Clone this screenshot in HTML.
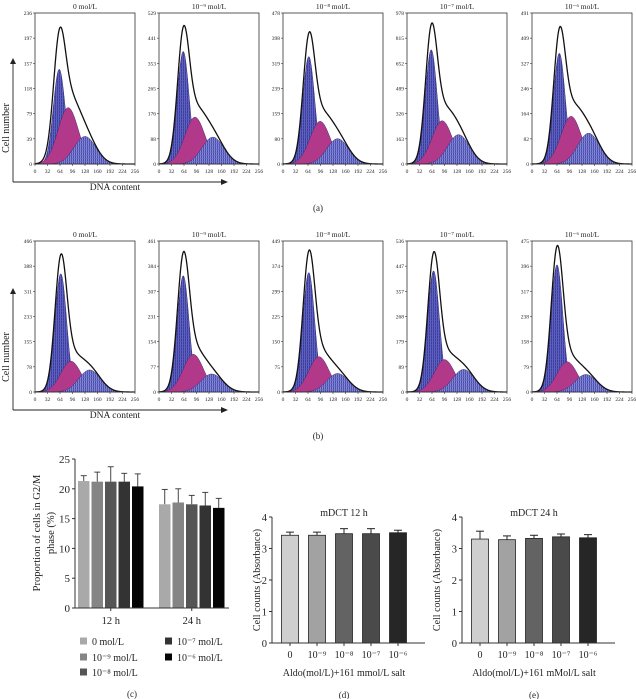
<!DOCTYPE html>
<html><head><meta charset="utf-8"><style>
html,body{margin:0;padding:0;background:#fff;}
svg{display:block;font-family:"Liberation Serif",serif;}
</style></head><body>
<svg id="fig" width="636" height="699" viewBox="0 0 636 699" xmlns="http://www.w3.org/2000/svg">
<defs>
<pattern id="hatchG1" width="2" height="3" patternUnits="userSpaceOnUse"><rect width="2" height="3" fill="#3a3d9e"/><rect width="0.8" height="3" fill="#6a6dc8"/><rect y="2.4" width="2" height="0.6" fill="#5558b8"/></pattern>
<pattern id="hatchG2" width="2" height="3" patternUnits="userSpaceOnUse"><rect width="2" height="3" fill="#4a4eae"/><rect width="0.9" height="3" fill="#8a8dd8"/><rect y="2.4" width="2" height="0.6" fill="#6a6dc6"/></pattern>
</defs>
</svg>
<script>
// ---------- Histogram data (flow cytometry) ----------
const histTitles = ["0 mol/L","10⁻⁹ mol/L","10⁻⁸ mol/L","10⁻⁷ mol/L","10⁻⁶ mol/L"];
const xTicks = [0,32,64,96,128,160,192,224,256];
const rowAYMax = [236,529,478,978,491];
const rowBYMax = [466,461,449,536,475];
const rowAG1Peak = [148,394,340,740,360];
const rowAG1Pos  = [62,62,66,62,70];
const rowASPeak  = [88,164,135,280,155];
const rowASPos   = [85,92,95,90,100];
const rowAG2Peak = [43,94,80,190,100];
const rowAG2Pos  = [128,138,140,132,145];
const rowBG1Peak = [365,355,355,430,400];
const rowBG1Pos  = [66,62,66,68,64];
const rowBSPeak  = [95,115,105,115,95];
const rowBSPos   = [92,88,92,96,90];
const rowBG2Peak = [68,55,55,80,55];
const rowBG2Pos  = [140,135,140,145,138];
// ---------- Panel c ----------
const cGroups = ["12 h","24 h"];
const cLegend = ["0 mol/L","10⁻⁹ mol/L","10⁻⁸ mol/L","10⁻⁷ mol/L","10⁻⁶ mol/L"];
const c12Values = [21.3,21.2,21.2,21.2,20.4];
const c12Err = [0.9,1.6,2.5,1.4,2.1];
const c24Values = [17.4,17.7,17.4,17.2,16.8];
const c24Err = [2.5,2.3,1.5,2.2,1.6];
const cTicks = [0,5,10,15,20,25];
// ---------- Panels d/e ----------
const deCats = ["0","10⁻⁹","10⁻⁸","10⁻⁷","10⁻⁶"];
const dValues = [3.42,3.42,3.47,3.47,3.50];
const dErr = [0.10,0.10,0.16,0.16,0.08];
const eValues = [3.30,3.28,3.32,3.37,3.34];
const eErr = [0.25,0.12,0.10,0.09,0.10];
const deTicks = [0,1,2,3,4];

const NS="http://www.w3.org/2000/svg";
const svg=document.getElementById('fig');
function mk(tag,attrs,parent){const e=document.createElementNS(NS,tag);for(const k in attrs)e.setAttribute(k,attrs[k]);(parent||svg).appendChild(e);return e;}
function txt(x,y,s,size,anchor,parent,extra){const t=mk('text',Object.assign({x:x,y:y,'font-size':size,'text-anchor':anchor||'middle',fill:'#222'},extra||{}),parent);t.textContent=s;return t;}

const lefts=[35,159,283,407,532];
const W=100;
function gauss(x,m,s){return Math.exp(-(x-m)*(x-m)/(2*s*s));}
function drawHist(i,top,bottom,ymax,yTicksMax,g1p,g1m,sp,sm,g2p,g2m,row){
  const g=mk('g',{});
  
  
  const L=lefts[i];
  const xs=v=>L+v/256*W;
  const ys=v=>bottom-v/ymax*(bottom-top);
  const comps=[[g1p,g1m,15,'url(#hatchG1)','g1-peak'],[sp,sm,26,'#b2388a','s-phase-peak'],[g2p,g2m,28,'url(#hatchG2)','g2-peak']];
  const totalArr=[];
  for(let v=0;v<=256;v+=1)totalArr.push(0);
  comps.forEach(c=>{
    let d='M'+xs(0)+','+ys(0);
    for(let v=0;v<=256;v+=1){const y=c[0]*gauss(v,c[1],c[2]);totalArr[v]+=y;d+=' L'+xs(v).toFixed(2)+','+ys(y).toFixed(2);}
    d+=' L'+xs(256)+','+ys(0)+'Z';
    const p=mk('path',{d:d,fill:c[3],stroke:'#3a2a6a','stroke-width':0.5},g);
    
    
  });
  let d='';
  for(let v=0;v<=256;v++){d+=(v?' L':'M')+xs(v).toFixed(2)+','+ys(totalArr[v]).toFixed(2);}
  const tl=mk('path',{d:d,fill:'none',stroke:'#111','stroke-width':1.3},g);
  
  
  const fr=mk('rect',{x:L,y:top,width:W,height:bottom-top,fill:'none',stroke:'#333','stroke-width':0.8},g);
  
  
  for(let k=0;k<=6;k++){
    const val=Math.round(yTicksMax*(6-k)/6);
    const yy=top+k*(bottom-top)/6;
    mk('line',{x1:L-2,x2:L,y1:yy,y2:yy,stroke:'#333','stroke-width':0.6},g);
    const t=txt(L-3,yy+2,String(k===0?yTicksMax:val),5.5,'end',g);
    
    
  }
  xTicks.forEach(v=>{
    mk('line',{x1:xs(v),x2:xs(v),y1:bottom,y2:bottom+2,stroke:'#333','stroke-width':0.6},g);
    const t=txt(xs(v),bottom+9,String(v),5.5,'middle',g);
    
    
  });
  const tt=txt(L+W/2,top-4,histTitles[i],7.5,'middle',g);
  
  
}
for(let i=0;i<5;i++){
  drawHist(i,13,164,rowAYMax[i],rowAYMax[i],rowAG1Peak[i],rowAG1Pos[i],rowASPeak[i],rowASPos[i],rowAG2Peak[i],rowAG2Pos[i],'a');
  drawHist(i,241,392,rowBYMax[i],rowBYMax[i],rowBG1Peak[i],rowBG1Pos[i],rowBSPeak[i],rowBSPos[i],rowBG2Peak[i],rowBG2Pos[i],'b');
}
// big axes arrows
function bigAxes(topArrow,yAxis,label,lblY,row){
  const g=mk('g',{});
  
  
  mk('line',{x1:13,y1:yAxis,x2:13,y2:topArrow+5,stroke:'#222','stroke-width':0.9},g);
  mk('path',{d:`M10,${topArrow+6} L13,${topArrow} L16,${topArrow+6}Z`,fill:'#222'},g);
  mk('line',{x1:13,y1:yAxis,x2:222,y2:yAxis,stroke:'#222','stroke-width':0.9},g);
  mk('path',{d:`M221,${yAxis-3} L228,${yAxis} L221,${yAxis+3}Z`,fill:'#222'},g);
  const cn=txt(0,0,'Cell number',10,'middle',g,{transform:`translate(9,${(topArrow+yAxis)/2+8}) rotate(-90)`});
  
  
  const dn=txt(115,lblY,'DNA content',9.5,'middle',g);
  
  
  const pl=txt(318,lblY+21,'('+row+')',9,'middle',g);
  
  
}
bigAxes(58,182,'',190,'a');
bigAxes(288,410,'',418,'b');

// ---------- Panel c ----------
(function(){
  const g=mk('g',{});
  
  
  const ax=75,top=459,bot=608,ymax=25;
  const ys=v=>bot-v/ymax*(bot-top);
  const cols=['#a9a9a9','#858585','#555555','#333333','#050505'];
  const groupStart=[78,159];
  const step=13.5,bw=11.5;
  [c12Values,c24Values].forEach((vals,gi)=>{
    const errs=gi?c24Err:c12Err;
    vals.forEach((v,k)=>{
      const x=groupStart[gi]+k*step;
      const cx=x+bw/2;
      const ey=ys(v+errs[k]);
      mk('line',{x1:cx,x2:cx,y1:ys(v),y2:ey,stroke:'#333','stroke-width':0.9},g);
      mk('line',{x1:cx-3,x2:cx+3,y1:ey,y2:ey,stroke:'#333','stroke-width':0.9},g);
      const r=mk('rect',{x:x,y:ys(v),width:bw,height:bot-ys(v),fill:cols[k]},g);
      
      
    });
    const lt=txt(groupStart[gi]+2*step+bw/2,bot+16,cGroups[gi],10.5,'middle',g);
    
    
    mk('line',{x1:groupStart[gi]+2*step+bw/2,x2:groupStart[gi]+2*step+bw/2,y1:bot,y2:bot+3,stroke:'#333'},g);
  });
  mk('line',{x1:ax,y1:top,x2:ax,y2:bot,stroke:'#333','stroke-width':1},g);
  mk('line',{x1:ax,y1:bot,x2:229,y2:bot,stroke:'#333','stroke-width':1},g);
  cTicks.forEach(v=>{
    mk('line',{x1:ax-3,x2:ax,y1:ys(v),y2:ys(v),stroke:'#333'},g);
    const t=txt(ax-5,ys(v)+4,String(v),11,'end',g);
    
    
  });
  const yt=mk('text',{transform:'translate(40,533) rotate(-90)','font-size':10.5,'text-anchor':'middle',fill:'#222'},g);
  
  
  yt.innerHTML='<tspan x="0" dy="0">Proportion of cells in G2/M</tspan><tspan x="0" dy="14">phase (%)</tspan>';
  const legPos=[[80,642],[80,658],[80,673],[165,642],[165,658]];
  cLegend.forEach((s,k)=>{
    const lg=mk('g',{},g);
    
    
    mk('rect',{x:legPos[k][0],y:legPos[k][1]-4.5,width:7,height:7,fill:cols[k]},lg);
    txt(legPos[k][0]+12,legPos[k][1]+3,s,10,'start',lg);
  });
  const pl=txt(132,697,'(c)',9,'middle',g);
  
  
})();

// ---------- Panels d/e ----------
function drawDE(ax,firstCenter,vals,errs,title,xtitle,ytitleX,label,name){
  const g=mk('g',{});
  
  
  const top=517,bot=643,ymax=4,step=27,bw=17;
  const ys=v=>bot-v/ymax*(bot-top);
  const cols=['#cfcfcf','#a2a2a2','#636363','#4a4a4a','#262626'];
  vals.forEach((v,k)=>{
    const cx=firstCenter+k*step;
    const ey=ys(v+errs[k]);
    mk('line',{x1:cx,x2:cx,y1:ys(v),y2:ey,stroke:'#222','stroke-width':1},g);
    mk('line',{x1:cx-4,x2:cx+4,y1:ey,y2:ey,stroke:'#222','stroke-width':1},g);
    const r=mk('rect',{x:cx-bw/2,y:ys(v),width:bw,height:bot-ys(v),fill:cols[k],stroke:'#222','stroke-width':0.8},g);
    
    
    mk('line',{x1:cx,x2:cx,y1:bot,y2:bot+3,stroke:'#333'},g);
    const t=txt(cx,bot+15,deCats[k],10,'middle',g);
    
    
  });
  mk('line',{x1:ax,y1:top,x2:ax,y2:bot,stroke:'#333','stroke-width':1},g);
  mk('line',{x1:ax,y1:bot,x2:ax+153,y2:bot,stroke:'#333','stroke-width':1},g);
  deTicks.forEach(v=>{
    mk('line',{x1:ax-3,x2:ax,y1:ys(v),y2:ys(v),stroke:'#333'},g);
    const t=txt(ax-5,ys(v)+4,String(v),10.5,'end',g);
    
    
  });
  const tt=txt(firstCenter+2*step,516,title,10,'middle',g);
  
  
  const xt=txt(firstCenter+2*step,676,xtitle,10,'middle',g);
  
  
  const yt=txt(0,0,'Cell counts (Absorbance)',10,'middle',g,{transform:`translate(${ytitleX},580) rotate(-90)`});
  
  
  const pl=txt(firstCenter+2*step,698,label,9,'middle',g);
  
  
}
drawDE(272,290,dValues,dErr,'mDCT 12 h','Aldo(mol/L)+161 mmol/L salt',260,'(d)','panel-d-chart');
drawDE(462,480,eValues,eErr,'mDCT 24 h','Aldo(mol/L)+161 mMol/L salt',440,'(e)','panel-e-chart');
</script>
</body></html>
